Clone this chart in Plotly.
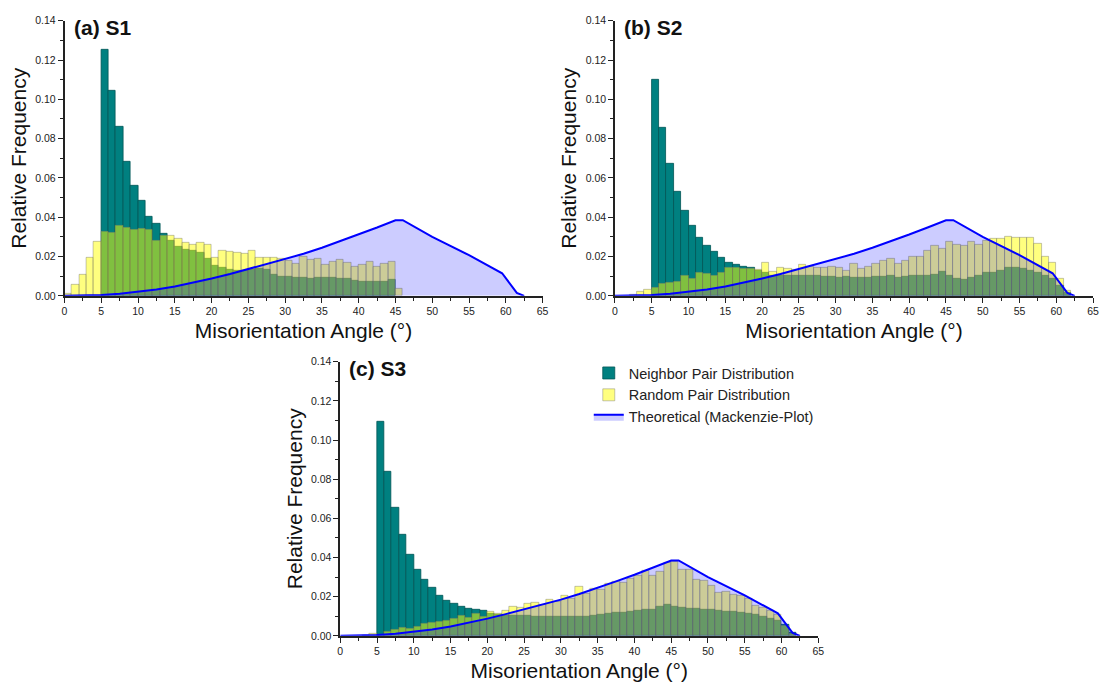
import plotly.graph_objects as go

# ---------------- data ----------------
bin_left = list(range(0, 62))  # 1-degree bins, left edges 0..61

N = None
neighbor_a = [N, N, N, N, N,
              0.1255, 0.1044, 0.0859, 0.0683, 0.0558, 0.0486, 0.0404, 0.0369, 0.0316, 0.0280,
              0.0250, 0.0235, 0.0228, 0.0222, 0.0190, 0.0155, 0.0145, 0.0135, 0.0130, 0.0130,
              0.0135, 0.0140, 0.0132, 0.0107, 0.0099, 0.0099, 0.0094, 0.0090, 0.0087, 0.0094,
              0.0090, 0.0090, 0.0087, 0.0087, 0.0077, 0.0074, 0.0074, 0.0074, 0.0074, 0.0084,
              N, N, N, N, N, N, N, N, N, N, N, N, N, N, N, N, N]
random_a = [0.0012, 0.0057, 0.0108, 0.0192, 0.0278,
            0.0327, 0.0319, 0.0357, 0.0347, 0.0337, 0.0343, 0.0334, 0.0283, 0.0308, 0.0305,
            0.0290, 0.0268, 0.0262, 0.0272, 0.0258, 0.0195, 0.0232, 0.0225, 0.0222, 0.0215,
            0.0228, 0.0192, 0.0192, 0.0194, 0.0190, 0.0177, 0.0165, 0.0199, 0.0184, 0.0187,
            0.0157, 0.0174, 0.0182, 0.0169, 0.0147, 0.0157, 0.0174, 0.0147, 0.0162, 0.0172,
            0.0037, N, N, N, N, N, N, N, N, N, N, N, N, N, N, N, N]

neighbor_b = [N, N, N, N, N,
              0.1101, 0.0855, 0.0673, 0.0528, 0.0435, 0.0355, 0.0295, 0.0256, 0.0226, 0.0195,
              0.0170, 0.0158, 0.0146, 0.0145, 0.0128, 0.0117, 0.0105, 0.0100, 0.0103, 0.0100,
              0.0100, 0.0100, 0.0100, 0.0097, 0.0097, 0.0094, 0.0097, 0.0094, 0.0094, 0.0094,
              0.0097, 0.0097, 0.0100, 0.0094, 0.0097, 0.0100, 0.0104, 0.0104, 0.0110, 0.0122,
              0.0103, 0.0086, 0.0082, 0.0093, 0.0103, 0.0116, 0.0120, 0.0130, 0.0141, 0.0145,
              0.0138, 0.0128, 0.0118, 0.0101, 0.0086, 0.0050, 0.0015]
random_b = [N, N, 0.0008, 0.0022, 0.0033,
            0.0042, 0.0062, 0.0067, 0.0070, 0.0100, 0.0087, 0.0120, 0.0112, 0.0105, 0.0120,
            0.0145, 0.0145, 0.0138, 0.0138, 0.0133, 0.0167, 0.0122, 0.0145, 0.0138, 0.0133,
            0.0158, 0.0150, 0.0145, 0.0145, 0.0148, 0.0143, 0.0127, 0.0162, 0.0140, 0.0150,
            0.0165, 0.0179, 0.0188, 0.0162, 0.0178, 0.0200, 0.0197, 0.0230, 0.0253, 0.0242,
            0.0273, 0.0258, 0.0253, 0.0278, 0.0258, 0.0282, 0.0289, 0.0293, 0.0302, 0.0297,
            0.0297, 0.0297, 0.0266, 0.0197, 0.0168, 0.0086, 0.0024]

neighbor_c = [N, N, N, N, N,
              0.1096, 0.0840, 0.0652, 0.0515, 0.0414, 0.0340, 0.0289, 0.0245, 0.0206, 0.0179,
              0.0163, 0.0149, 0.0141, 0.0135, 0.0126, 0.0115, 0.0108, 0.0105, 0.0103, 0.0103,
              0.0103, 0.0100, 0.0098, 0.0100, 0.0100, 0.0100, 0.0100, 0.0100, 0.0100, 0.0104,
              0.0108, 0.0112, 0.0117, 0.0118, 0.0123, 0.0128, 0.0132, 0.0135, 0.0150, 0.0160,
              0.0148, 0.0142, 0.0138, 0.0137, 0.0134, 0.0132, 0.0128, 0.0124, 0.0121, 0.0118,
              0.0113, 0.0107, 0.0097, 0.0088, 0.0075, 0.0055, 0.0017]
random_c = [N, N, N, 0.0003, 0.0010,
            0.0008, 0.0022, 0.0030, 0.0042, 0.0038, 0.0048, 0.0062, 0.0065, 0.0072, 0.0075,
            0.0087, 0.0105, 0.0092, 0.0112, 0.0098, 0.0122, 0.0112, 0.0130, 0.0147, 0.0143,
            0.0163, 0.0167, 0.0160, 0.0183, 0.0175, 0.0205, 0.0188, 0.0250, 0.0215, 0.0243,
            0.0235, 0.0266, 0.0277, 0.0273, 0.0290, 0.0306, 0.0334, 0.0306, 0.0326, 0.0372,
            0.0377, 0.0336, 0.0338, 0.0285, 0.0280, 0.0258, 0.0222, 0.0224, 0.0210, 0.0207,
            0.0188, 0.0153, 0.0146, 0.0130, 0.0109, 0.0053, 0.0013]

# Theoretical Mackenzie curve
mack_angle = [0, 2.5, 5, 7.5, 10, 12.5, 15, 17.5, 20, 22.5, 25, 27.5, 30, 32.5, 35,
              37.5, 40, 42.5, 45, 46, 50, 55, 59.5, 61.5, 62.5]
mack_freq = [0, 0.0001, 0.0004, 0.0011, 0.0021, 0.0033, 0.0048, 0.0067, 0.0088, 0.0111,
             0.0136, 0.0160, 0.0185, 0.0214, 0.0245, 0.0278, 0.0312, 0.0348, 0.0385,
             0.0385, 0.0300, 0.0207, 0.0115, 0.0015, 0]

x_ticks = list(range(0, 70, 5))
y_ticks = [0, 0.02, 0.04, 0.06, 0.08, 0.10, 0.12, 0.14]

panels = [
    ("(a) S1", neighbor_a, random_a),
    ("(b) S2", neighbor_b, random_b),
    ("(c) S3", neighbor_c, random_c),
]

# ---------------- styles ----------------
FONT = "Liberation Sans, Arial, sans-serif"
TEAL = "rgb(0,128,128)"
TEAL_EDGE = "rgb(0,85,85)"
YELLOW = "rgba(255,255,0,0.5)"
YELLOW_EDGE = "rgba(110,110,110,0.5)"
FILL = "rgba(0,0,255,0.2)"
BLUE = "rgb(0,0,255)"

xdomains = [[0.05596, 0.49097], [0.55686, 0.99188], [0.30686, 0.74188]]
ydomains = [[0.5731, 0.9783], [0.5731, 0.9783], [0.07236, 0.47612]]

centers = [b + 0.5 for b in bin_left]

fig = go.Figure()
for i, (label, nb, rd) in enumerate(panels):
    ax = "" if i == 0 else str(i + 1)
    fig.add_trace(go.Bar(
        x=centers, y=nb, width=1.0, name="Neighbor Pair Distribution",
        marker=dict(color=TEAL, line=dict(color=TEAL_EDGE, width=0.8)),
        xaxis="x" + ax, yaxis="y" + ax, showlegend=(i == 0), legendgroup="n"))
    fig.add_trace(go.Bar(
        x=centers, y=rd, width=1.0, name="Random Pair Distribution",
        marker=dict(color=YELLOW, line=dict(color=YELLOW_EDGE, width=0.8)),
        xaxis="x" + ax, yaxis="y" + ax, showlegend=(i == 0), legendgroup="r"))
    fig.add_trace(go.Scatter(
        x=mack_angle, y=mack_freq, mode="lines", name="Theoretical (Mackenzie-Plot)",
        line=dict(color=BLUE, width=2), fill="tozeroy", fillcolor=FILL,
        xaxis="x" + ax, yaxis="y" + ax, showlegend=(i == 0), legendgroup="m"))

layout = dict(
    width=1108, height=691,
    margin=dict(l=0, r=0, t=0, b=0),
    paper_bgcolor="white", plot_bgcolor="white",
    barmode="overlay", bargap=0,
    font=dict(family=FONT, color="#222"),
    showlegend=True,
    legend=dict(x=0.533, y=0.483, xanchor="left", yanchor="top",
                font=dict(size=14.5, family=FONT, color="#222"),
                bgcolor="rgba(0,0,0,0)", tracegroupgap=0, itemwidth=30),
)

annotations = []
for i, (label, nb, rd) in enumerate(panels):
    k = "" if i == 0 else str(i + 1)
    layout["xaxis" + k] = dict(
        domain=xdomains[i], anchor="y" + k, range=[0, 65],
        tickmode="array", tickvals=x_ticks, ticks="outside", ticklen=5, tickwidth=1,
        tickcolor="#222", showline=True, linecolor="#222", linewidth=1.5,
        showgrid=False, zeroline=False,
        minor=dict(dtick=2.5, tick0=0, ticks="outside", ticklen=3, tickcolor="#222", showgrid=False),
        tickfont=dict(size=10.5, family=FONT, color="#222"),
        title=dict(text="Misorientation Angle (°)", font=dict(size=21, family=FONT, color="#111"),
                   standoff=7),
    )
    layout["yaxis" + k] = dict(
        domain=ydomains[i], anchor="x" + k, range=[0, 0.14],
        tickmode="array", tickvals=y_ticks, tickformat=".2f", ticks="outside", ticklen=5,
        tickwidth=1, tickcolor="#222", showline=True, linecolor="#222", linewidth=1.5,
        showgrid=False, zeroline=False,
        minor=dict(dtick=0.01, tick0=0, ticks="outside", ticklen=3, tickcolor="#222", showgrid=False),
        tickfont=dict(size=10.5, family=FONT, color="#222"),
        title=dict(text="Relative Frequency", font=dict(size=21, family=FONT, color="#111"),
                   standoff=3),
    )
    annotations.append(dict(
        text="<b>%s</b>" % label, xref="x%s domain" % k if k else "x domain",
        yref="y%s domain" % k if k else "y domain",
        x=0.015, y=1.025, xanchor="left", yanchor="top", showarrow=False,
        font=dict(size=21, family=FONT, color="#111")))

layout["annotations"] = annotations
fig.update_layout(**layout)
fig.write_html("out.html")
